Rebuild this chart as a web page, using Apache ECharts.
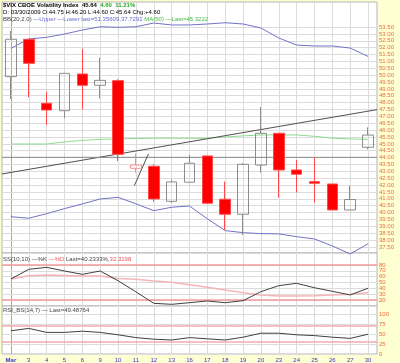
<!DOCTYPE html>
<html><head><meta charset="utf-8">
<script src="https://cdn.jsdelivr.net/npm/echarts@6/dist/echarts.min.js"></script>
<style>html,body{margin:0;padding:0;background:#ffffd4;}#c{width:400px;height:363px;}</style>
</head><body><div id="c"></div>
<script>
const categories = ['Mar','3','4','5','6','9','10','11','12','13','16','17','18','19','20','23','24','25','26','27','30'];
const openVals  = [49.89,52.61,47.95,47.41,50.08,49.26,49.60,43.22,43.37,40.82,42.21,44.12,40.97,39.88,43.46,45.77,43.10,42.25,42.08,40.19,44.75];
const closeVals = [52.61,50.86,47.46,50.13,49.26,49.62,44.24,43.46,40.99,42.23,43.59,40.68,39.88,43.51,45.77,43.10,42.79,42.13,40.19,40.95,45.64];
const lowVals   = [48.26,48.39,46.37,46.86,47.51,48.31,43.75,42.90,40.80,40.70,42.21,40.68,38.74,38.37,42.90,41.09,41.47,40.72,40.19,40.19,44.60];
const highVals  = [53.21,52.61,48.80,50.13,51.90,51.27,49.70,44.30,43.50,42.40,44.20,44.12,42.25,43.60,47.68,45.77,43.83,44.00,42.08,41.96,46.20];
const upperBand = [51.95,52.63,52.75,52.99,53.28,53.52,53.48,53.52,53.79,53.65,53.65,53.72,53.81,53.72,53.43,52.70,52.19,52.12,52.12,51.97,51.36];
const lowerBand = [39.70,39.59,39.92,40.29,40.63,40.99,41.11,40.64,40.14,40.39,40.48,39.55,38.69,38.54,38.47,38.45,38.25,38.08,37.57,36.99,37.73];
const ma50      = [44.99,44.99,44.99,45.14,45.25,45.33,45.36,45.39,45.41,45.41,45.41,45.41,45.50,45.58,45.65,45.65,45.65,45.55,45.41,45.36,45.32];
const pctK = [56,72.6,76,69.7,64,69.7,53,34,14.3,12.6,15.4,18.3,15.4,18.8,34.3,44.6,48.6,41,34.9,28.6,40.23];
const pctD = [56,61.7,62.9,62,61,61,57,55.4,52.6,50.3,46.3,41.7,37,32.6,28.6,26.9,26.9,27.4,28.6,29.7,32.32];
const rsi  = [58,64,54,54,57,54,48,41,37,35,41,38,35,42,52,52,48,46,42,39,49.49];
const mainTicks = [53.5,53,52.5,52,51.5,51,50.5,50,49.5,49,48.5,48,47.5,47,46.5,46,45.5,45,44.5,44,43.5,43,42.5,42,41.5,41,40.5,40,39.5,39,38.5,38,37.5];
const ssTicks = [80,70,60,50,40,30,20];
const ssPink = [80,20];
const rsiTicks = [100,75,50,25,0];
const rsiPink = [70,30];
const trendLine = [[-0.5,42.81],[20.5,47.49]];
const hLine = [[-0.5,44.02],[20.5,44.02]];
const shortLine = [[6.91,41.96],[7.70,44.27]];

const FF = 'Liberation Sans, Arial, sans-serif';
const chart = echarts.init(document.getElementById('c'));

const candleData = categories.map((c,i)=>{
  const o=openVals[i], cl=closeVals[i];
  const item = {value:[o,cl,lowVals[i],highVals[i]]};
  if (i>0 && cl>o && cl<closeVals[i-1]) item.itemStyle={color:'transparent', borderColor:'#ff8c8c'};
  return item;
});
const vLines = categories.map((c,i)=>({xAxis:c, lineStyle:{color: i===0?'#a8a8a8':'#dcdcdc'}, label:{show:false}}));
function hLines(ticks, fmt, color){
  return ticks.map(v=>({yAxis:v, lineStyle:{color: color||'#dcdcdc'}, label:{show:true, position:'end', distance:2, formatter: fmt(v), fontSize:6, color:'#ee6a44', fontFamily:FF}}));
}
const lastClose = closeVals[closeVals.length-1];
const mlBase = {silent:true, symbol:['none','none'], animation:false, lineStyle:{type:'solid', width:1}};

const grids = [
  {left:2, top:2, width:375, height:251},
  {left:2, top:253, width:375, height:53},
  {left:2, top:306, width:375, height:48}
];
const catAxis = (gi, showLabel) => ({type:'category', gridIndex:gi, data:categories, boundaryGap:true,
  axisLine:{show:false}, axisTick:{show:false}, splitLine:{show:false},
  axisLabel:{show:showLabel, interval:0, fontSize:6, color:'#3535c8', margin:3, fontFamily:FF,
    formatter:(v,i)=> i===0 ? '{b|'+v+'}' : v, rich:{b:{fontWeight:'bold', fontSize:6, color:'#3535c8'}}}});
const valAxis = (gi,min,max) => ({type:'value', gridIndex:gi, min, max, show:false, splitLine:{show:false}});

const option = {
  animation:false,
  backgroundColor:'#ffffd4',
  grid: grids.map(g=>Object.assign({show:true, backgroundColor:'#ffffff', borderColor:'#b4b4b4', borderWidth:1}, g)),
  xAxis:[catAxis(0,false), catAxis(1,false), catAxis(2,true),
    {type:'value', gridIndex:0, min:-0.5, max:20.5, show:false, splitLine:{show:false}}],
  yAxis:[valAxis(0,37.06,55.32), valAxis(1,9.71,100.57), valAxis(2,0,120)],
  series:[
    {type:'candlestick', xAxisIndex:0, yAxisIndex:0, z:10, barWidth:11, data:candleData,
      itemStyle:{color:'transparent', color0:'#ff0000', borderColor:'#8c8c8c', borderColor0:'#ff4a4a', borderWidth:1},
      markLine:Object.assign({}, mlBase, {data: vLines.concat(hLines(mainTicks, v=>v.toFixed(2))).concat([
        {yAxis:lastClose, lineStyle:{opacity:0}, label:{show:true, position:'end', distance:0, formatter:lastClose.toFixed(2),
          backgroundColor:'#000', color:'#fff', fontWeight:'bold', fontSize:6.5, padding:[2,3,1,3], fontFamily:FF}}])})},
    {type:'line', xAxisIndex:0, yAxisIndex:0, z:9, data:upperBand, symbol:'none', clip:false, lineStyle:{color:'#7272c8', width:1}},
    {type:'line', xAxisIndex:0, yAxisIndex:0, z:9, data:lowerBand, symbol:'none', clip:false, lineStyle:{color:'#7272c8', width:1}},
    {type:'line', xAxisIndex:0, yAxisIndex:0, z:9, data:ma50, symbol:'none', lineStyle:{color:'#8edc8e', width:1}},
    {type:'line', xAxisIndex:3, yAxisIndex:0, z:9, data:trendLine, symbol:'none', lineStyle:{color:'#505050', width:1}},
    {type:'line', xAxisIndex:3, yAxisIndex:0, z:9, data:hLine, symbol:'none', lineStyle:{color:'#8a8a8a', width:1}},
    {type:'line', xAxisIndex:3, yAxisIndex:0, z:9, data:shortLine, symbol:'none', lineStyle:{color:'#505050', width:1}},
    {type:'line', xAxisIndex:1, yAxisIndex:1, z:10, data:pctK, symbol:'none', clip:false, lineStyle:{color:'#404040', width:1},
      markLine:Object.assign({}, mlBase, {data: vLines.concat(hLines(ssTicks, v=>String(v))).concat(
        ssPink.map(v=>({yAxis:v, lineStyle:{color:'#f29a9a', width:1.5}, label:{show:false}})))})},
    {type:'line', xAxisIndex:1, yAxisIndex:1, z:9, data:pctD, symbol:'none', lineStyle:{color:'#f6b4b4', width:1.5}},
    {type:'line', xAxisIndex:2, yAxisIndex:2, z:10, data:rsi, symbol:'none', lineStyle:{color:'#404040', width:1},
      markLine:Object.assign({}, mlBase, {data: vLines.concat(hLines(rsiTicks, v=>String(v))).concat(
        rsiPink.map(v=>({yAxis:v, lineStyle:{color:'#f4aaaa', width:1.5}, label:{show:false}})))})}
  ],
  graphic:[
    {type:'text', left:3, top:2, z:100, style:{fontFamily:FF, fontSize:6, fontWeight:'bold', fill:'#000',
      text:'{a|$VIX CBOE Volatility Index}  {a|45.64}  {g|4.60  11.21%}',
      rich:{a:{fontSize:6, fontWeight:'bold', fill:'#000', fontFamily:FF}, g:{fontSize:6, fontWeight:'bold', fill:'#22aa22', fontFamily:FF}}}},
    {type:'text', left:3, top:9, z:100, style:{fontFamily:FF, fontSize:6, fill:'#000',
      text:'D: 03/30/2009 O:44.75 H:46.20 L:44.60 C:45.64 Chg:+4.60'}},
    {type:'text', left:3, top:16, z:100, style:{fontFamily:FF, fontSize:6, fill:'#333',
      text:'{k|BB(20,2.0)} {b|—Upper —Lower last=51.35609,37.7291} {g|MA(50) —Last=45.3222}',
      rich:{k:{fill:'#444', fontSize:6, fontFamily:FF}, b:{fill:'#6a6ad0', fontSize:6, fontFamily:FF}, g:{fill:'#44bb44', fontSize:6, fontFamily:FF}}}},
    {type:'text', left:3, top:256, z:100, style:{fontFamily:FF, fontSize:6, fill:'#333',
      text:'{k|SS(10,10) —%K} {r|—%D} {k|Last=40.2333%,}{r|32.3198}',
      rich:{k:{fill:'#444', fontSize:6, fontFamily:FF}, r:{fill:'#ee5555', fontSize:6, fontFamily:FF}}}},
    {type:'text', left:3, top:307, z:100, style:{fontFamily:FF, fontSize:6, fill:'#444',
      text:'RSI_BS(14,7) — Last=49.48764'}}
  ]
};
chart.setOption(option);
</script></body></html>
